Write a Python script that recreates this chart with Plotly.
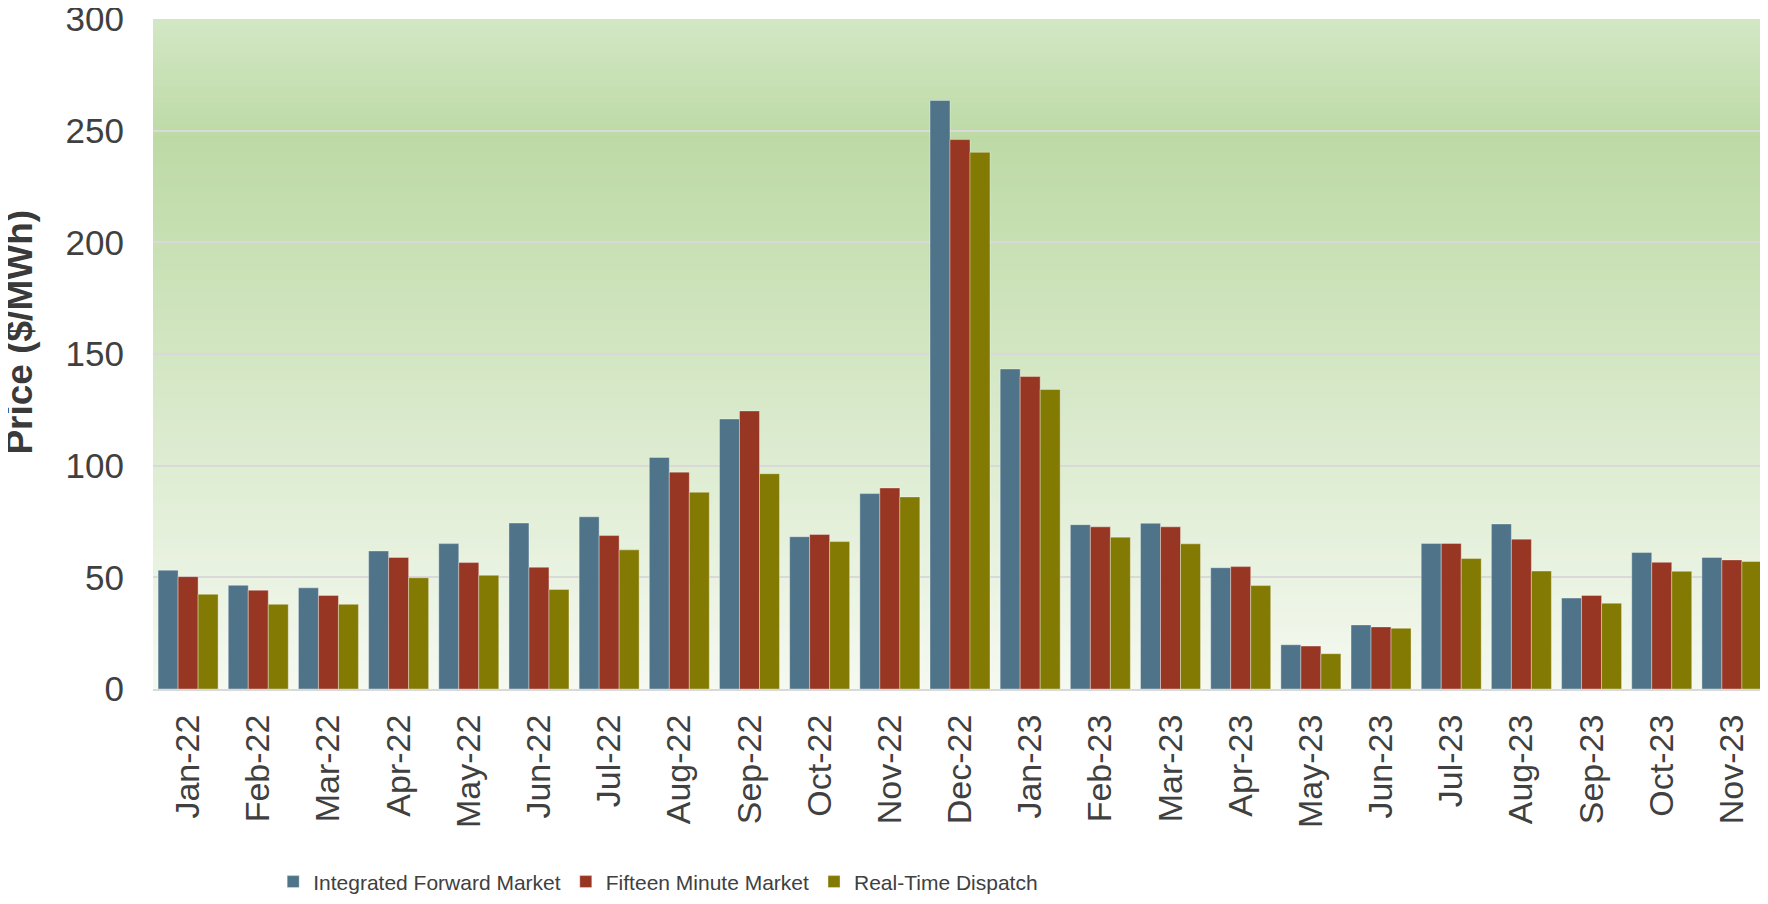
import plotly.graph_objects as go

months = ["Jan-22", "Feb-22", "Mar-22", "Apr-22", "May-22", "Jun-22", "Jul-22", "Aug-22",
          "Sep-22", "Oct-22", "Nov-22", "Dec-22", "Jan-23", "Feb-23", "Mar-23", "Apr-23",
          "May-23", "Jun-23", "Jul-23", "Aug-23", "Sep-23", "Oct-23", "Nov-23"]

ifm = [53.2, 46.4, 45.3, 61.8, 65.1, 74.3, 77.1, 103.7, 120.9, 68.2, 87.5, 263.5,
       143.3, 73.6, 74.2, 54.3, 19.8, 28.7, 65.2, 73.9, 40.7, 61.1, 58.9]
fmm = [50.3, 44.2, 41.9, 58.9, 56.6, 54.5, 68.7, 97.1, 124.5, 69.2, 90.0, 246.0,
       139.9, 72.6, 72.6, 54.8, 19.2, 27.8, 65.2, 67.1, 41.9, 56.7, 57.8]
rtd = [42.4, 37.9, 37.9, 49.8, 50.9, 44.6, 62.3, 88.1, 96.4, 66.0, 86.0, 240.3,
       134.1, 68.0, 65.0, 46.3, 15.8, 27.2, 58.4, 52.8, 38.4, 52.7, 57.1]

y_ticks = [0, 50, 100, 150, 200, 250, 300]

series = [
    ("Integrated Forward Market", ifm, "#4f7489"),
    ("Fifteen Minute Market", fmm, "#973622"),
    ("Real-Time Dispatch", rtd, "#837a03"),
]

fig = go.Figure()
for name, vals, col in series:
    fig.add_trace(go.Bar(
        name=name, x=months, y=vals,
        marker=dict(color=col, line=dict(color="rgba(255,255,255,0.35)", width=1)),
    ))

# background vertical gradient (decoration only)
stops = [(0.0, (245, 249, 241)), (0.82, (189, 218, 165)), (1.0, (211, 231, 197))]

def grad(f):
    for (f0, c0), (f1, c1) in zip(stops[:-1], stops[1:]):
        if f0 <= f <= f1:
            t = (f - f0) / (f1 - f0)
            return "rgb(%d,%d,%d)" % tuple(round(a + (b - a) * t) for a, b in zip(c0, c1))
    return "rgb(%d,%d,%d)" % stops[-1][1]

n = 120
shapes = []
for i in range(n):
    y0 = i / n
    y1 = (i + 1) / n
    shapes.append(dict(type="rect", xref="x domain", yref="y domain",
                       x0=0, x1=1, y0=y0, y1=min(1, y1 + 0.002), layer="below",
                       line=dict(width=0), fillcolor=grad((y0 + y1) / 2)))

font_main = "Liberation Sans, Arial, sans-serif"

# page body has an 8px margin, so the figure is 8px smaller than the window
fig.update_layout(
    width=1760, height=896,
    margin=dict(l=145, r=1, t=11, b=209),
    paper_bgcolor="white", plot_bgcolor="white",
    barmode="group", bargap=0.145, bargroupgap=0,
    shapes=shapes,
    font=dict(family=font_main, color="#404040"),
    showlegend=True,
    legend=dict(orientation="h", x=0.313, xanchor="center", y=-0.288, yanchor="middle",
                font=dict(family=font_main, size=21, color="#404040"),
                itemwidth=30, tracegroupgap=0, bgcolor="rgba(0,0,0,0)"),
    annotations=[dict(text="<b>Price ($/MWh)</b>", xref="paper", yref="paper",
                      x=-0.0824, y=0.532, textangle=-90, showarrow=False,
                      xanchor="center", yanchor="middle",
                      font=dict(family=font_main, size=37, color="#3a3a3a"))],
)

fig.update_yaxes(range=[0, 300], tickvals=y_ticks, automargin=False,
                 ticklabeloverflow="allow",
                 showgrid=True, gridcolor="#d9d9d9", gridwidth=2,
                 zeroline=False, showline=False,
                 tickfont=dict(size=35, color="#404040", family=font_main),
                 ticklabelstandoff=28)
fig.update_xaxes(tickangle=-90, showgrid=False, showline=True, linecolor="#d9d9d9", linewidth=2,
                 automargin=False,
                 tickfont=dict(size=34, color="#404040", family=font_main),
                 ticklabelstandoff=10)

fig.write_html("out.html")
